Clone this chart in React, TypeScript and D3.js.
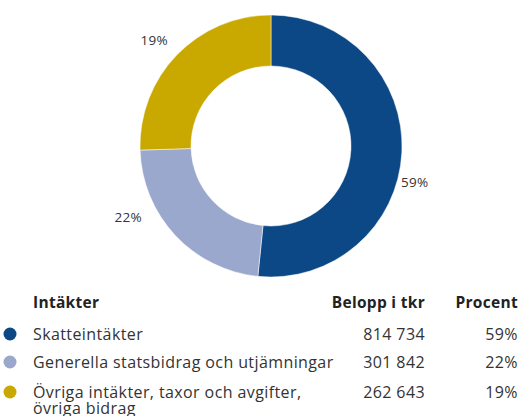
import React from "react";
import * as d3 from "d3";

const categories = ["Skatteintäkter", "Generella statsbidrag och utjämningar", "Övriga intäkter, taxor och avgifter, övriga bidrag"];
const categoryLines = [["Skatteintäkter"], ["Generella statsbidrag och utjämningar"], ["Övriga intäkter, taxor och avgifter,", "övriga bidrag"]];
const amounts = ["814 734", "301 842", "262 643"];
const percentLabels = ["59%", "22%", "19%"];
// slice shares as drawn in the donut
const sliceShares = [51.6, 22.9, 25.5];
const colors = ["#0c4885", "#9aa8cd", "#c9a800"];
const headers = ["Intäkter", "Belopp i tkr", "Procent"];

const W = 528, H = 416;
const cx = 271, cy = 146, rOuter = 131, rInner = 80;
const FONT = "'Open Sans', sans-serif";

export default function App() {
  const pie = d3.pie<number>().sort(null).value((d) => d);
  const arcs = pie(sliceShares);
  const arcGen = d3.arc<d3.PieArcDatum<number>>().innerRadius(rInner).outerRadius(rOuter);
  const labelPos = [
    { x: 401, y: 187, anchor: "start" },
    { x: 142, y: 222, anchor: "end" },
    { x: 168, y: 45, anchor: "end" },
  ];
  const rowY = [340, 368, 398];
  const bodyStyle = { letterSpacing: "0.4px" };
  return (
    <svg width={W} height={H} style={{ position: "absolute", left: 0, top: 0 }} fontFamily={FONT}>
      <rect width={W} height={H} fill="#fff" />
      <g transform={`translate(${cx},${cy})`}>
        {arcs.map((a, i) => (
          <path key={i} d={arcGen(a) || ""} fill={colors[i]} stroke="#fff" strokeWidth={0.5} />
        ))}
      </g>
      {percentLabels.map((p, i) => (
        <text key={i} x={labelPos[i].x} y={labelPos[i].y} textAnchor={labelPos[i].anchor as any} fontSize={13.5} fill="#333" style={{ letterSpacing: "0.3px" }}>
          {p}
        </text>
      ))}
      <text x={33} y={308} fontSize={15.5} fontWeight={700} fill="#222" style={{ letterSpacing: "0.3px" }}>{headers[0]}</text>
      <text x={425} y={308} fontSize={15.5} fontWeight={700} fill="#222" textAnchor="end" style={{ letterSpacing: "0.3px" }}>{headers[1]}</text>
      <text x={518} y={308} fontSize={15.5} fontWeight={700} fill="#222" textAnchor="end" style={{ letterSpacing: "0.3px" }}>{headers[2]}</text>
      {categories.map((c, i) => (
        <g key={c}>
          <circle cx={10} cy={rowY[i] - 6} r={6.5} fill={colors[i]} />
          {categoryLines[i].map((ln, j) => (
            <text key={j} x={33} y={rowY[i] + j * 16} fontSize={16} fill="#333" style={bodyStyle}>{ln}</text>
          ))}
          <text x={425} y={rowY[i]} fontSize={16} fill="#333" textAnchor="end" style={bodyStyle}>{amounts[i]}</text>
          <text x={518} y={rowY[i]} fontSize={16} fill="#333" textAnchor="end" style={bodyStyle}>{percentLabels[i]}</text>
        </g>
      ))}
    </svg>
  );
}
